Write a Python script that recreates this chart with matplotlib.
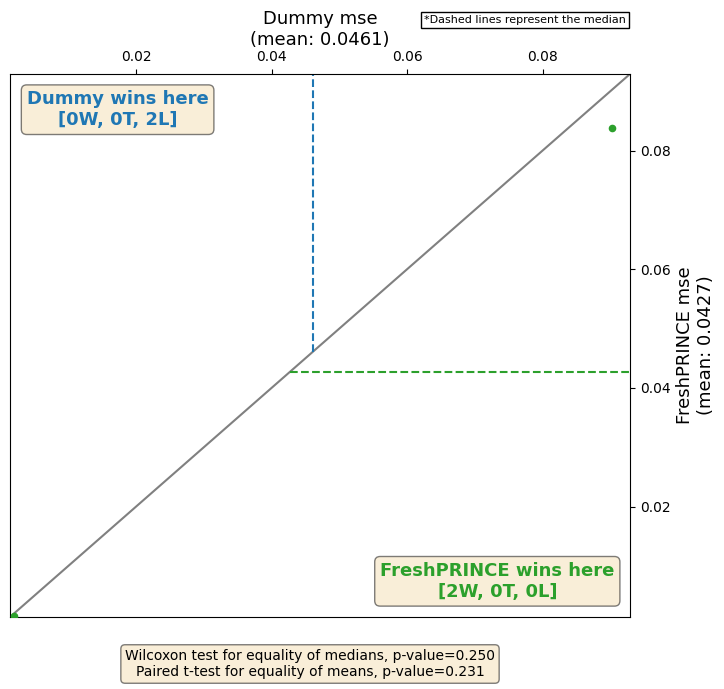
import matplotlib.pyplot as plt

# scores per dataset
dummy_mse = [0.0020, 0.0902]
fresh_mse = [0.0016, 0.0838]
dummy_mean = 0.0461
fresh_mean = 0.0427
lo, hi = 0.0014, 0.0929

fig = plt.figure(figsize=(7.24, 6.89), dpi=100)
W, H = 724, 689
ax = fig.add_axes([10 / W, 1 - 617 / H, 620 / W, 543 / H])

ax.plot([lo, hi], [lo, hi], color="grey", zorder=1)
ax.scatter(dummy_mse, fresh_mse, color="tab:green", s=20, zorder=3)
ax.plot([dummy_mean, dummy_mean], [dummy_mean, hi], color="tab:blue", ls="--")
ax.plot([fresh_mean, hi], [fresh_mean, fresh_mean], color="tab:green", ls="--")
ax.set_xlim(lo, hi)
ax.set_ylim(lo, hi)
ax.set_xticks([0.02, 0.04, 0.06, 0.08])
ax.set_yticks([0.02, 0.04, 0.06, 0.08])

ax.xaxis.tick_top()
ax.xaxis.set_label_position("top")
ax.yaxis.tick_right()
ax.yaxis.set_label_position("right")
ax.set_xlabel("Dummy mse\n(mean: %.4f)" % dummy_mean, fontsize=13)
ax.set_ylabel("FreshPRINCE mse\n(mean: %.4f)" % fresh_mean, fontsize=13)

box = dict(boxstyle="round", facecolor="wheat", alpha=0.5, edgecolor="black")
ax.text(0.027, 0.97, "Dummy wins here\n[0W, 0T, 2L]", transform=ax.transAxes,
        fontsize=13, fontweight="bold", color="tab:blue", ha="left", va="top",
        multialignment="center", bbox=box)
ax.text(0.975, 0.03, "FreshPRINCE wins here\n[2W, 0T, 0L]", transform=ax.transAxes,
        fontsize=13, fontweight="bold", color="tab:green", ha="right", va="bottom",
        multialignment="center", bbox=box)
fig.text(310 / W, 1 - 664 / H, "Wilcoxon test for equality of medians, p-value=0.250\n"
         "Paired t-test for equality of means, p-value=0.231",
         fontsize=10, ha="center", va="center",
         multialignment="center", bbox=box)
fig.text(525 / W, 1 - 20 / H, "*Dashed lines represent the median", fontsize=8,
         ha="center", va="center",
         bbox=dict(boxstyle="square", facecolor="white", edgecolor="black"))

fig.savefig("out.png", dpi=100)
